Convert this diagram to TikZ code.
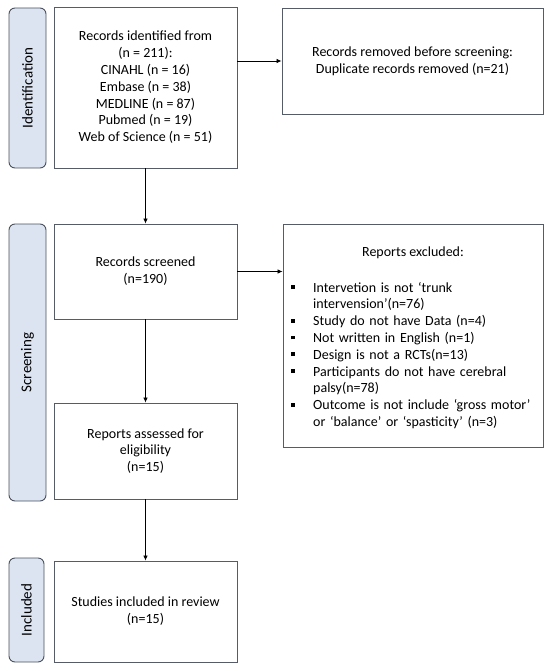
\documentclass[tikz,border=0pt]{standalone}
\usepackage{fontspec}
\setmainfont{Carlito}
\usetikzlibrary{arrows.meta}
\definecolor{barfill}{RGB}{220,228,242}
\definecolor{bardraw}{RGB}{74,80,92}
\definecolor{boxdraw}{RGB}{85,92,104}
\tikzset{
  box/.style={draw=boxdraw, line width=0.9pt, fill=white, inner sep=2pt, align=center,
    font=\fontsize{14}{16.8}\selectfont},
  bar/.style={draw=bardraw, line width=0.9pt, fill=barfill, rounded corners=6pt},
  barlabel/.style={rotate=90, font=\fontsize{15}{17}\selectfont},
  arr/.style={-{Latex[length=5pt,width=4.5pt]}, line width=0.8pt, black},
  txt/.style={align=center, inner sep=0pt, font=\fontsize{14}{16.8}\selectfont}
}
\newcommand{\sqbullet}{\rule[3pt]{3.8pt}{3.8pt}}
\begin{document}
\begin{tikzpicture}[x=1pt,y=-1pt]
\useasboundingbox (0,0) rectangle (550,671);
% side bars
\node[bar, minimum width=37pt, minimum height=160pt] (bid) at (27.5,88) {};
\node[barlabel] (lid) at (bid.center) {Identification};
\node[bar, minimum width=37pt, minimum height=277pt] (bsc) at (27.5,362.5) {};
\node[barlabel] (lsc) at (bsc.center) {Screening};
\node[bar, minimum width=35pt, minimum height=104pt] (bin) at (26.5,610) {};
\node[barlabel] (lin) at (bin.center) {Included};
% boxes
\node[box, minimum width=183pt, minimum height=161pt] (ident) at (145.5,87.5)
  {Records identified from\\(n = 211):\\CINAHL (n = 16)\\Embase (n = 38)\\MEDLINE (n = 87)\\Pubmed (n = 19)\\Web of Science (n = 51)};
\node[box, minimum width=261pt, minimum height=106pt] (removed) at (412.5,61)
  {Records removed before screening:\\Duplicate records removed (n=21)};
\node[box, minimum width=183pt, minimum height=95pt] (screened) at (145.5,271.5)
  {Records screened\\(n=190)};
\node[box, minimum width=260pt, minimum height=223pt] (excluded) at (413,335.5) {};
\node[txt] (extitle) at (413,253) {Reports excluded:};
\node[anchor=north west, inner sep=0pt, text width=243pt,
      font=\fontsize{14}{16.8}\selectfont] (exlist) at (291,275)
{\begin{list}{\makebox[12pt][l]{\sqbullet}}{\setlength{\leftmargin}{22pt}\setlength{\labelwidth}{12pt}\setlength{\labelsep}{10pt}\setlength{\itemsep}{0pt}\setlength{\parsep}{0pt}\setlength{\topsep}{0pt}\setlength{\partopsep}{0pt}\setlength{\rightmargin}{0pt}\raggedright}
\item Intervetion is not ‘trunk intervension’(n=76)
\item Study do not have Data (n=4)
\item Not written in English (n=1)
\item Design is not a RCTs(n=13)
\item Participants do not have cerebral palsy(n=78)
\item Outcome is not include ‘gross motor’ or ‘balance’ or ‘spasticity’ (n=3)
\end{list}};
\node[box, minimum width=183pt, minimum height=96pt] (elig) at (145.5,451)
  {Reports assessed for\\eligibility\\(n=15)};
\node[box, minimum width=183pt, minimum height=101pt] (incl) at (145.5,611.5)
  {Studies included in review\\(n=15)};
% connectors
\draw[arr] (ident.south) -- (screened.north);
\draw[arr] (removed.west -| ident.east) -- (removed.west);
\draw[arr] (screened.east) -- (screened.east -| excluded.west);
\draw[arr] (screened.south) -- (elig.north);
\draw[arr] (elig.south) -- (incl.north);
\end{tikzpicture}
\end{document}
